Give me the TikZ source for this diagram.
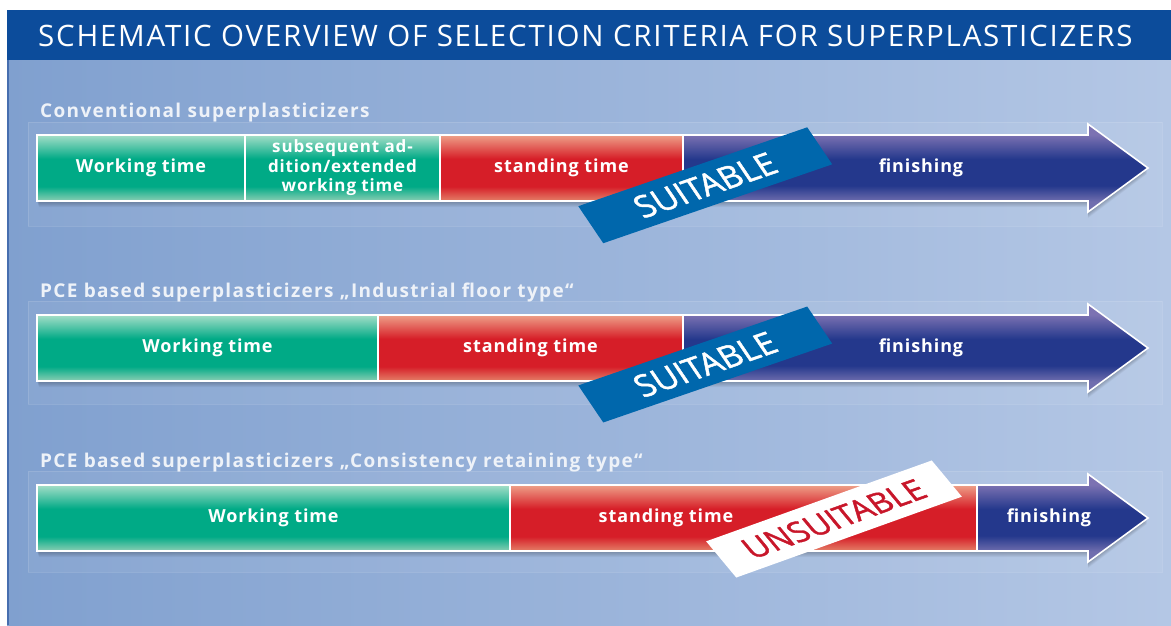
\documentclass[tikz,border=0pt]{standalone}
\usepackage{fontspec}
\setmainfont{Open Sans}
\newfontfamily\titlefont[LetterSpace=6]{Open Sans}
\newfontfamily\labelfont[LetterSpace=7]{Open Sans}
\newfontfamily\segfont[LetterSpace=5]{Open Sans}
\newfontfamily\stampfont[FakeBold=1.4]{Open Sans}
\usetikzlibrary{calc}

% palette
\definecolor{hdrblue}{RGB}{12,76,155}
\definecolor{bgleft}{RGB}{128,160,207}
\definecolor{bgright}{RGB}{180,199,229}
\definecolor{edgeblue}{RGB}{70,110,175}
\definecolor{labeltxt}{RGB}{238,242,248}
\definecolor{gL}{RGB}{165,222,200}
\definecolor{gL2}{RGB}{140,206,180}
\definecolor{gD}{RGB}{0,170,134}
\definecolor{rL}{RGB}{238,160,136}
\definecolor{rL2}{RGB}{228,128,104}
\definecolor{rD}{RGB}{214,30,40}
\definecolor{bL}{RGB}{124,114,178}
\definecolor{bL2}{RGB}{112,110,174}
\definecolor{bD}{RGB}{36,56,140}
\definecolor{stampblue}{RGB}{0,103,172}
\definecolor{stampred}{RGB}{200,22,42}

% bar shadings: bottom = 25bp, top = 75bp
\pgfdeclareverticalshading{greenbar}{100bp}{color(0bp)=(gL2); color(25bp)=(gL2); color(36bp)=(gD); color(57bp)=(gD); color(75bp)=(gL); color(100bp)=(gL)}
\pgfdeclareverticalshading{redbar}{100bp}{color(0bp)=(rL2); color(25bp)=(rL2); color(36bp)=(rD); color(57bp)=(rD); color(75bp)=(rL); color(100bp)=(rL)}
\pgfdeclareverticalshading{bluebar}{100bp}{color(0bp)=(bL2); color(31bp)=(bL2); color(40bp)=(bD); color(55bp)=(bD); color(69bp)=(bL); color(100bp)=(bL)}

\tikzset{
  seg/.style={draw=white, line width=1.6pt, inner sep=0pt, minimum height=66pt,
    text=white, font=\segfont\bfseries\fontsize{18}{19.5}\selectfont, align=center},
  greenseg/.style={seg, shading=greenbar},
  redseg/.style={seg, shading=redbar},
  arrowpart/.style={shading=bluebar, draw=white, line width=1.6pt, line join=miter},
  segtext/.style={text=white, font=\segfont\bfseries\fontsize{18}{19.5}\selectfont, inner sep=0pt},
  rowlabel/.style={anchor=base west, inner sep=0pt, text=labeltxt,
    font=\labelfont\bfseries\fontsize{19}{22}\selectfont},
  rowband/.style={fill=white, fill opacity=0.06, draw=white, draw opacity=0.12, line width=0.8pt},
  stampS/.style={fill=stampblue, text=white, inner sep=0pt, minimum width=242pt,
    minimum height=44.6pt, font=\stampfont\fontsize{33}{36}\selectfont, transform shape},
  stampU/.style={fill=white, text=stampred, inner sep=0pt, minimum width=240pt,
    minimum height=47pt, font=\stampfont\fontsize{32}{36}\selectfont, transform shape},
}

% soft shadow below an arrow outline: #1 body top, #2 body bottom, #3 arrow axis
\newcommand{\barshadow}[3]{%
  \foreach \k in {1,...,6}{
    \fill[black, opacity=0.045]
      ($(37+\k*0.3,#1+\k)$) -- (1088,#1+\k) -- (1088,#1-11+\k) -- (1148-\k*0.2,#3+\k) --
      (1088,#2+11+\k) -- (1088,#2+\k) -- (37+\k*0.3,#2+\k) -- cycle;
  }%
}

\begin{document}
\begin{tikzpicture}[x=1pt, y=-1pt]
  \useasboundingbox (0,0) rectangle (1171,625);
  \fill[white] (0,0) rectangle (1171,625);

  % panel and header
  \shade[left color=bgleft, right color=bgright] (7,60) rectangle (1171,625);
  \fill[edgeblue] (7,60) rectangle (9,625);
  \fill[hdrblue] (7,10) rectangle (1171,60);
  \node[anchor=base west, inner sep=0pt, text=white, font=\titlefont\fontsize{29.5}{32}\selectfont]
    (title) at (38,46) {SCHEMATIC OVERVIEW OF SELECTION CRITERIA FOR SUPERPLASTICIZERS};

  % row backgrounds
  \draw[rowband] (28,122) rectangle (1162,226);
  \draw[rowband] (28,301) rectangle (1162,404);
  \draw[rowband] (28,471) rectangle (1162,572);

  % ---------- row 1: conventional ----------
  \node[rowlabel] (lab1) at (40,117) {Conventional superplasticizers};
  \barshadow{135}{201}{168}
  \path[arrowpart] (683,135) -- (1088,135) -- (1088,124) -- (1148,168) -- (1088,212)
    -- (1088,201) -- (683,201) -- cycle;
  \node[greenseg, minimum width=208pt] (w1) at (141,168) {Working time};
  \node[greenseg, minimum width=195pt, font=\segfont\bfseries\fontsize{17}{19.5}\selectfont]
    (e1) at (342.5,168) {subsequent ad-\\dition/extended\\working time};
  \node[redseg, minimum width=243pt] (r1) at (561.5,168) {standing time};
  \node[segtext] (f1) at (921,168) {finishing};

  % ---------- row 2: industrial floor type ----------
  \node[rowlabel] (lab2) at (40,297) {PCE based superplasticizers „Industrial floor type“};
  \barshadow{315}{381}{348}
  \path[arrowpart] (683,315) -- (1088,315) -- (1088,304) -- (1148,348) -- (1088,392)
    -- (1088,381) -- (683,381) -- cycle;
  \node[greenseg, minimum width=341pt] (w2) at (207.5,348) {Working time};
  \node[redseg, minimum width=305pt] (r2) at (530.5,348) {standing time};
  \node[segtext] (f2) at (921,348) {finishing};

  % ---------- row 3: consistency retaining type ----------
  \node[rowlabel] (lab3) at (40,467) {PCE based superplasticizers „Consistency retaining type“};
  \barshadow{485}{551}{518}
  \path[arrowpart] (977,485) -- (1088,485) -- (1088,474) -- (1148,518) -- (1088,562)
    -- (1088,551) -- (977,551) -- cycle;
  \node[greenseg, minimum width=473pt] (w3) at (273.5,518) {Working time};
  \node[redseg, minimum width=467pt] (r3) at (743.5,518) {};
  \node[segtext] (s3) at (666,518) {standing time};
  \node[segtext] (f3) at (1049,518) {finishing};

  % ---------- verdict stamps ----------
  \begin{scope}[shift={(705.25,185.25)}, cm={0.946,0.326,-0.56,0.83,(0,0)}]
    \node[stampS] (ok1) at (0,0) {SUITABLE};
  \end{scope}
  \begin{scope}[shift={(705.25,364.5)}, cm={0.946,0.326,-0.56,0.83,(0,0)}]
    \node[stampS] (ok2) at (0,0) {SUITABLE};
  \end{scope}
  \begin{scope}[shift={(834,519)}, cm={0.94,0.337,-0.64,0.77,(0,0)}]
    \node[stampU] (no3) at (0,0) {UNSUITABLE};
  \end{scope}
\end{tikzpicture}
\end{document}
